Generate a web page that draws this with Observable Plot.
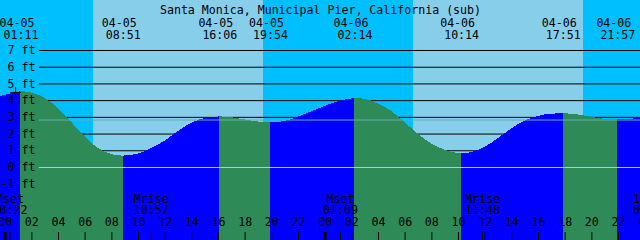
<!DOCTYPE html>
<html><head><meta charset="utf-8">
<script src="https://cdn.jsdelivr.net/npm/d3@7"></script>
<script src="https://cdn.jsdelivr.net/npm/@observablehq/plot@0.6"></script>
<style>html,body{margin:0;padding:0;background:#fff}#chart svg{display:block}</style>
</head><body><div id="chart"></div>
<script>
const title = "Santa Monica, Municipal Pier, California (sub)";

// Tide height readings (ft)
const curveTimes = [
  "04-04 23:00","04-05 00:00","04-05 01:00","04-05 01:11","04-05 02:00","04-05 03:00","04-05 04:00",
  "04-05 05:00","04-05 06:00","04-05 07:00","04-05 08:00","04-05 08:51","04-05 09:00","04-05 10:00",
  "04-05 11:00","04-05 12:00","04-05 13:00","04-05 14:00","04-05 15:00","04-05 16:00","04-05 16:06",
  "04-05 17:00","04-05 18:00","04-05 19:00","04-05 19:54","04-05 20:00","04-05 21:00","04-05 22:00",
  "04-05 23:00","04-06 00:00","04-06 01:00","04-06 02:00","04-06 02:14","04-06 03:00","04-06 04:00",
  "04-06 05:00","04-06 06:00","04-06 07:00","04-06 08:00","04-06 09:00","04-06 10:00","04-06 10:14",
  "04-06 11:00","04-06 12:00","04-06 13:00","04-06 14:00","04-06 15:00","04-06 16:00","04-06 17:00",
  "04-06 17:51","04-06 18:00","04-06 19:00","04-06 20:00","04-06 21:00","04-06 21:57","04-06 22:00",
  "04-06 23:00","04-07 00:00"
];
const curveFeet = [
  4.02, 4.32, 4.50, 4.54, 4.45, 4.13, 3.52,
  2.68, 1.83, 1.13, 0.77, 0.68, 0.69, 0.80,
  1.13, 1.58, 2.16, 2.65, 2.93, 3.02, 3.03,
  2.98, 2.84, 2.72, 2.67, 2.67, 2.75, 3.02,
  3.33, 3.65, 3.94, 4.10, 4.13, 4.08, 3.79,
  3.35, 2.68, 1.98, 1.41, 1.03, 0.83, 0.81,
  0.89, 1.21, 1.73, 2.31, 2.78, 3.06, 3.19,
  3.21, 3.21, 3.14, 3.00, 2.88, 2.85, 2.85,
  2.89, 3.00
];

const tideTimes = ["04-05 01:11","04-05 08:51","04-05 16:06","04-05 19:54","04-06 02:14","04-06 10:14","04-06 17:51","04-06 21:57"];
const tideKinds = ["high","low","high","low","high","low","high","low"];

const sunriseTimes = ["04-05 06:37","04-06 06:36"];
const sunsetTimes  = ["04-05 19:22","04-06 19:23"];

const moonTimes  = ["04-05 00:22","04-05 10:57","04-06 01:09","04-06 11:48","04-07 00:24"];
const moonLabels = ["Mset","Mrise","Mset","Mrise","1st Q"];

const feetTicks = [-1,0,1,2,3,4,5,6,7];
const datumFeet = [0];
const meanLevelFeet = [2.84];

const tickDays = ["04-05","04-06","04-07"];
const tickHours = ["00","02","04","06","08","10","12","14","16","18","20","22"];

const nowTimes = ["04-05 00:47"];
const nowFeet = [4.49];

const windowStart = "04-04 23:39";
const gridStart = "04-05 02:34";
const feetDomain = [-4.368, 9.991];

// ---------- build ----------
const parse = s => {
  const [md, hm] = s.split(" ");
  const [mo, d] = md.split("-").map(Number);
  const [h, m] = hm.split(":").map(Number);
  return new Date(Date.UTC(2025, mo - 1, d, h, m));
};
const t0 = parse(windowStart);
const t1 = new Date(+t0 + 48 * 3600e3);
const gx = parse(gridStart);
const [yBot, yTop] = feetDomain;
const tickTop = yBot + (yTop - yBot) * 8 / 240;

const curve = curveTimes.map((s, i) => ({t: parse(s), ft: curveFeet[i]}));
const tides = tideTimes.map((s, i) => ({t: parse(s), kind: tideKinds[i], date: s.split(" ")[0], time: s.split(" ")[1]}));
const bounds = [curve[0].t, ...tides.map(d => d.t), curve[curve.length - 1].t];
const water = [];
for (let k = 0; k < bounds.length - 1; k++) {
  const a = bounds[k], b = bounds[k + 1];
  const phase = k < tides.length
    ? (tides[k].kind === "high" ? "rising" : "falling")
    : (tides[tides.length - 1].kind === "low" ? "rising" : "falling");
  for (const p of curve) if (p.t >= a && p.t <= b) water.push({...p, seg: k, phase});
}
const days = sunriseTimes.map((s, i) => ({a: parse(s), b: parse(sunsetTimes[i])}));
const moon = moonTimes.map((s, i) => ({t: parse(s), label: moonLabels[i], time: s.split(" ")[1]}));
const hourTicks = [];
for (const d of tickDays) for (const h of tickHours) {
  const t = parse(d + " " + h + ":00");
  if (t >= t0 && t <= new Date(+t1 + 3600e3)) hourTicks.push({t, label: h, midnight: h === "00"});
}
const now = nowTimes.map((s, i) => ({t: parse(s), ft: nowFeet[i]}));

const font = "DejaVu Sans Mono";
const fs = 11.6;
const txt = {fontFamily: font, fontSize: fs, fill: "black"};

const chart = Plot.plot({
  width: 640, height: 240,
  margin: 0,
  style: {background: "#00BFFF", fontFamily: font},
  x: {type: "utc", domain: [t0, t1], axis: null},
  y: {domain: feetDomain, axis: null},
  color: {domain: ["rising", "falling"], range: ["#0000FF", "#2E8B57"]},
  marks: [
    Plot.rect(days, {x1: "a", x2: "b", y1: yBot, y2: yTop, fill: "#87CEEB", shapeRendering: "crispEdges"}),
    Plot.ruleY(feetTicks, {y: d => d, x1: gx, x2: t1, stroke: "black", strokeWidth: 1}),
    Plot.areaY(water, {x: "t", y1: yBot, y2: "ft", z: "seg", fill: "phase", curve: "monotone-x", shapeRendering: "crispEdges"}),
    Plot.ruleY(datumFeet, {y: d => d, x1: gx, x2: t1, stroke: "#9ad4ee", strokeWidth: 1}),
    Plot.ruleY(meanLevelFeet, {y: d => d, x1: gx, x2: t1, stroke: "#5fb0ac", strokeWidth: 1}),
    Plot.text(feetTicks, {x: gx, y: d => d, text: d => `${d} ft`, textAnchor: "end", dx: -4, ...txt}),
    Plot.dot(now, {x: "t", y: "ft", symbol: "plus", r: 3.5, stroke: "black", strokeWidth: 1}),
    Plot.text([title], {frameAnchor: "top", text: d => d, dy: 5.6, ...txt}),
    Plot.text(tides, {x: "t", frameAnchor: "top", text: "date", dy: 18, dx: -4, ...txt}),
    Plot.text(tides, {x: "t", frameAnchor: "top", text: "time", dy: 30.6, ...txt}),
    Plot.text(moon, {x: "t", frameAnchor: "bottom", text: "label", dy: -38, ...txt}),
    Plot.text(moon, {x: "t", frameAnchor: "bottom", text: "time", dy: -26.4, ...txt}),
    Plot.text(hourTicks, {x: "t", frameAnchor: "bottom", text: "label", dy: -14.2, ...txt}),
    Plot.ruleX(hourTicks, {x: "t", y1: yBot, y2: tickTop, stroke: "black", strokeWidth: d => d.midnight ? 3 : 1}),
    Plot.ruleX(moon, {x: "t", y1: yBot, y2: tickTop, stroke: "black", strokeWidth: 1})
  ]
});
document.getElementById("chart").appendChild(chart);
</script>
</body></html>
